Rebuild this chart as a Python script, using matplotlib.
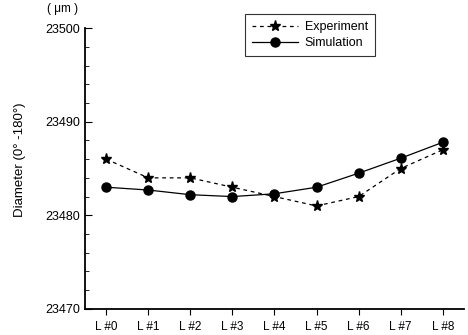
import matplotlib
matplotlib.use('Agg')
import matplotlib.pyplot as plt
from matplotlib.ticker import MultipleLocator

plt.rcParams['font.family'] = ['Liberation Sans', 'DejaVu Sans']

labels = ['L #0', 'L #1', 'L #2', 'L #3', 'L #4', 'L #5', 'L #6', 'L #7', 'L #8']
experiment = [23486.0, 23484.0, 23484.0, 23483.0, 23482.0, 23481.0, 23482.0, 23485.0, 23487.0]
simulation = [23483.0, 23482.7, 23482.2, 23482.0, 23482.3, 23483.0, 23484.5, 23486.1, 23487.8]

fig = plt.figure(figsize=(4.68, 3.35), dpi=100)
ax = fig.add_axes([0.182, 0.078, 0.809, 0.838])

x = range(len(labels))
ax.plot(x, experiment, color='black', linestyle=(0, (3, 3)), linewidth=0.9,
        marker='*', markersize=8, label='Experiment')
ax.plot(x, simulation, color='black', linestyle='-', linewidth=0.9,
        marker='o', markersize=6.5, label='Simulation')

ax.set_xlim(-0.5, 8.5)
ax.set_ylim(23470, 23500)
ax.set_xticks(list(x))
ax.set_xticklabels(labels, fontsize=8.5)
ax.set_yticks([23470, 23480, 23490, 23500])
ax.yaxis.set_minor_locator(MultipleLocator(2))
ax.tick_params(axis='y', direction='in', which='both', labelsize=9)
ax.tick_params(axis='y', which='major', length=5)
ax.tick_params(axis='y', which='minor', length=3)
ax.tick_params(axis='x', direction='out', length=4, pad=5)

ax.spines['top'].set_visible(False)
ax.spines['right'].set_visible(False)
ax.spines['left'].set_linewidth(1.3)
ax.spines['bottom'].set_linewidth(1.3)

fig.text(0.043, 0.522, 'Diameter (0° -180°)', fontsize=9.5, rotation=90,
         ha='center', va='center')
fig.text(0.133, 0.974, '( μm )', fontsize=8.5, ha='center', va='center')

leg = fig.legend(*ax.get_legend_handles_labels(), loc='upper left',
                 bbox_to_anchor=(0.524, 0.958), fontsize=9,
                 frameon=True, fancybox=False, edgecolor='black',
                 handlelength=3.7, handletextpad=0.5, borderpad=0.55,
                 labelspacing=0.35, borderaxespad=0)
leg.get_frame().set_linewidth(0.8)

fig.savefig('out.png', dpi=100)
